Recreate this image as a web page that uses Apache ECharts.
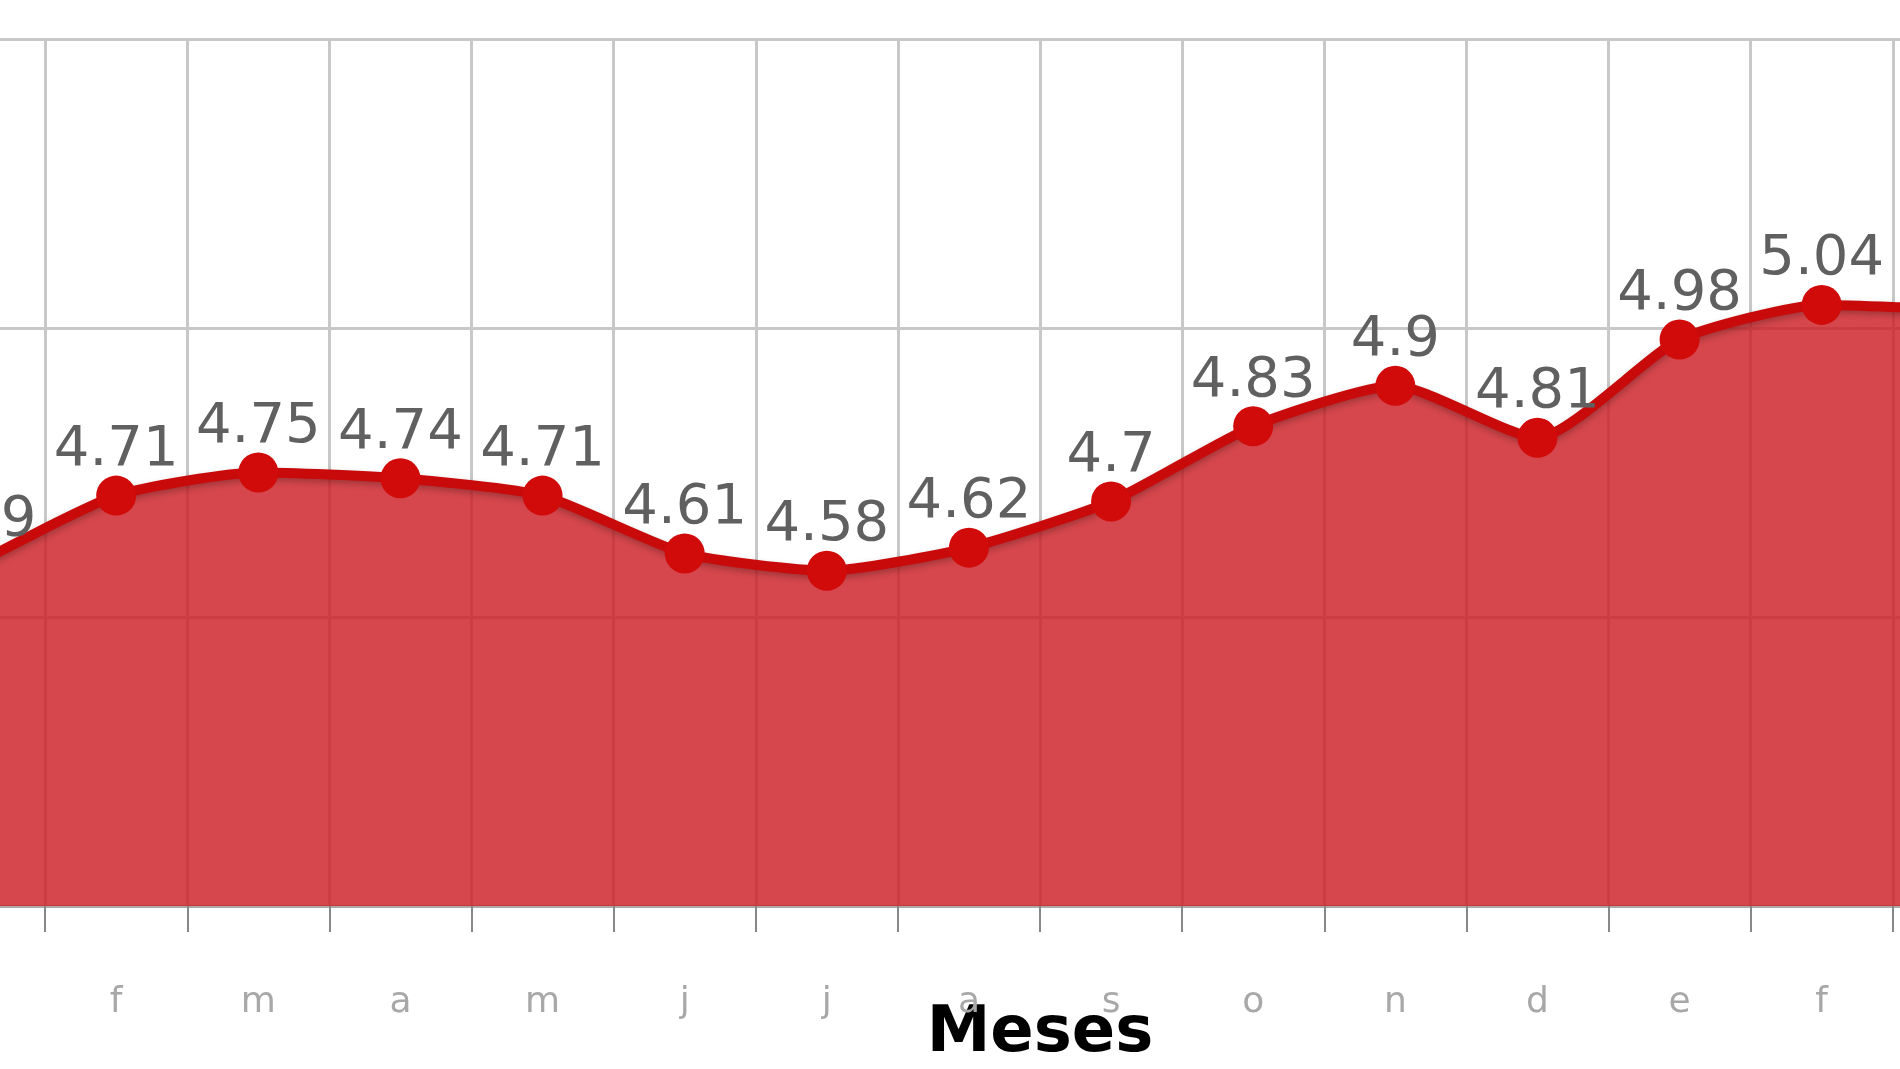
<!DOCTYPE html>
<html>
<head>
<meta charset="utf-8">
<script src="https://cdn.jsdelivr.net/npm/echarts@6/dist/echarts.min.js"></script>
<style>
html,body{margin:0;padding:0;background:#fff;}
#chart{width:1900px;height:1069px;}
</style>
</head>
<body>
<div id="chart"></div>
<script>
// meses (la vista está recortada: se ven de "f" a "f")
var meses = ['e','f','m','a','m','j','j','a','s','o','n','d','e','f','m','a'];
var valores = [4.59,4.71,4.75,4.74,4.71,4.61,4.58,4.62,4.7,4.83,4.9,4.81,4.98,5.04,5.03,5.0];
var yMin = 4, yMax = 5.5, yStep = 0.5;

var chart = echarts.init(document.getElementById('chart'));

var option = {
	backgroundColor:'#fff',
	animation:false,
	grid:{
		left:-97,
		right:-277,
		top:39,
		bottom:163,
		outerBoundsMode:'none',
		containLabel:false
	},
	xAxis:{
		type:'category',
		data:meses,
		boundaryGap:true,
		name:'Meses',
		nameLocation:'middle',
		nameGap:96,
		nameMoveOverlap:false,
		nameTextStyle:{
			fontFamily:'DejaVu Sans',
			fontWeight:'bold',
			fontSize:64,
			color:'#000'
		},
		axisLine:{show:true,lineStyle:{color:'#aaa',width:3}},
		axisTick:{show:true,length:26,lineStyle:{color:'#888',width:2}},
		axisLabel:{
			margin:79,
			fontFamily:'DejaVu Sans',
			fontSize:36,
			color:'#a8a8a8'
		},
		splitLine:{show:true,lineStyle:{color:'#c8c8c8',width:3}}
	},
	yAxis:{
		type:'value',
		min:yMin,
		max:yMax,
		interval:yStep,
		axisLine:{show:false},
		axisTick:{show:false},
		axisLabel:{show:false},
		splitLine:{show:true,lineStyle:{color:'#c8c8c8',width:3}}
	},
	series:[
		{
			type:'line',
			data:valores,
			smooth:0.2,
			symbol:'circle',
			symbolSize:40,
			itemStyle:{color:'#d10a0a'},
			lineStyle:{
				color:'#c80a0a',
				width:10,
				shadowColor:'rgba(0,0,0,0.25)',
				shadowBlur:6,
				shadowOffsetY:3
			},
			areaStyle:{color:'#cc1f24',opacity:0.82},
			label:{
				show:true,
				position:'top',
				distance:-3,
				fontFamily:'DejaVu Sans',
				fontSize:56,
				color:'#606060'
			}
		}
	]
};

chart.setOption(option);
</script>
</body>
</html>
